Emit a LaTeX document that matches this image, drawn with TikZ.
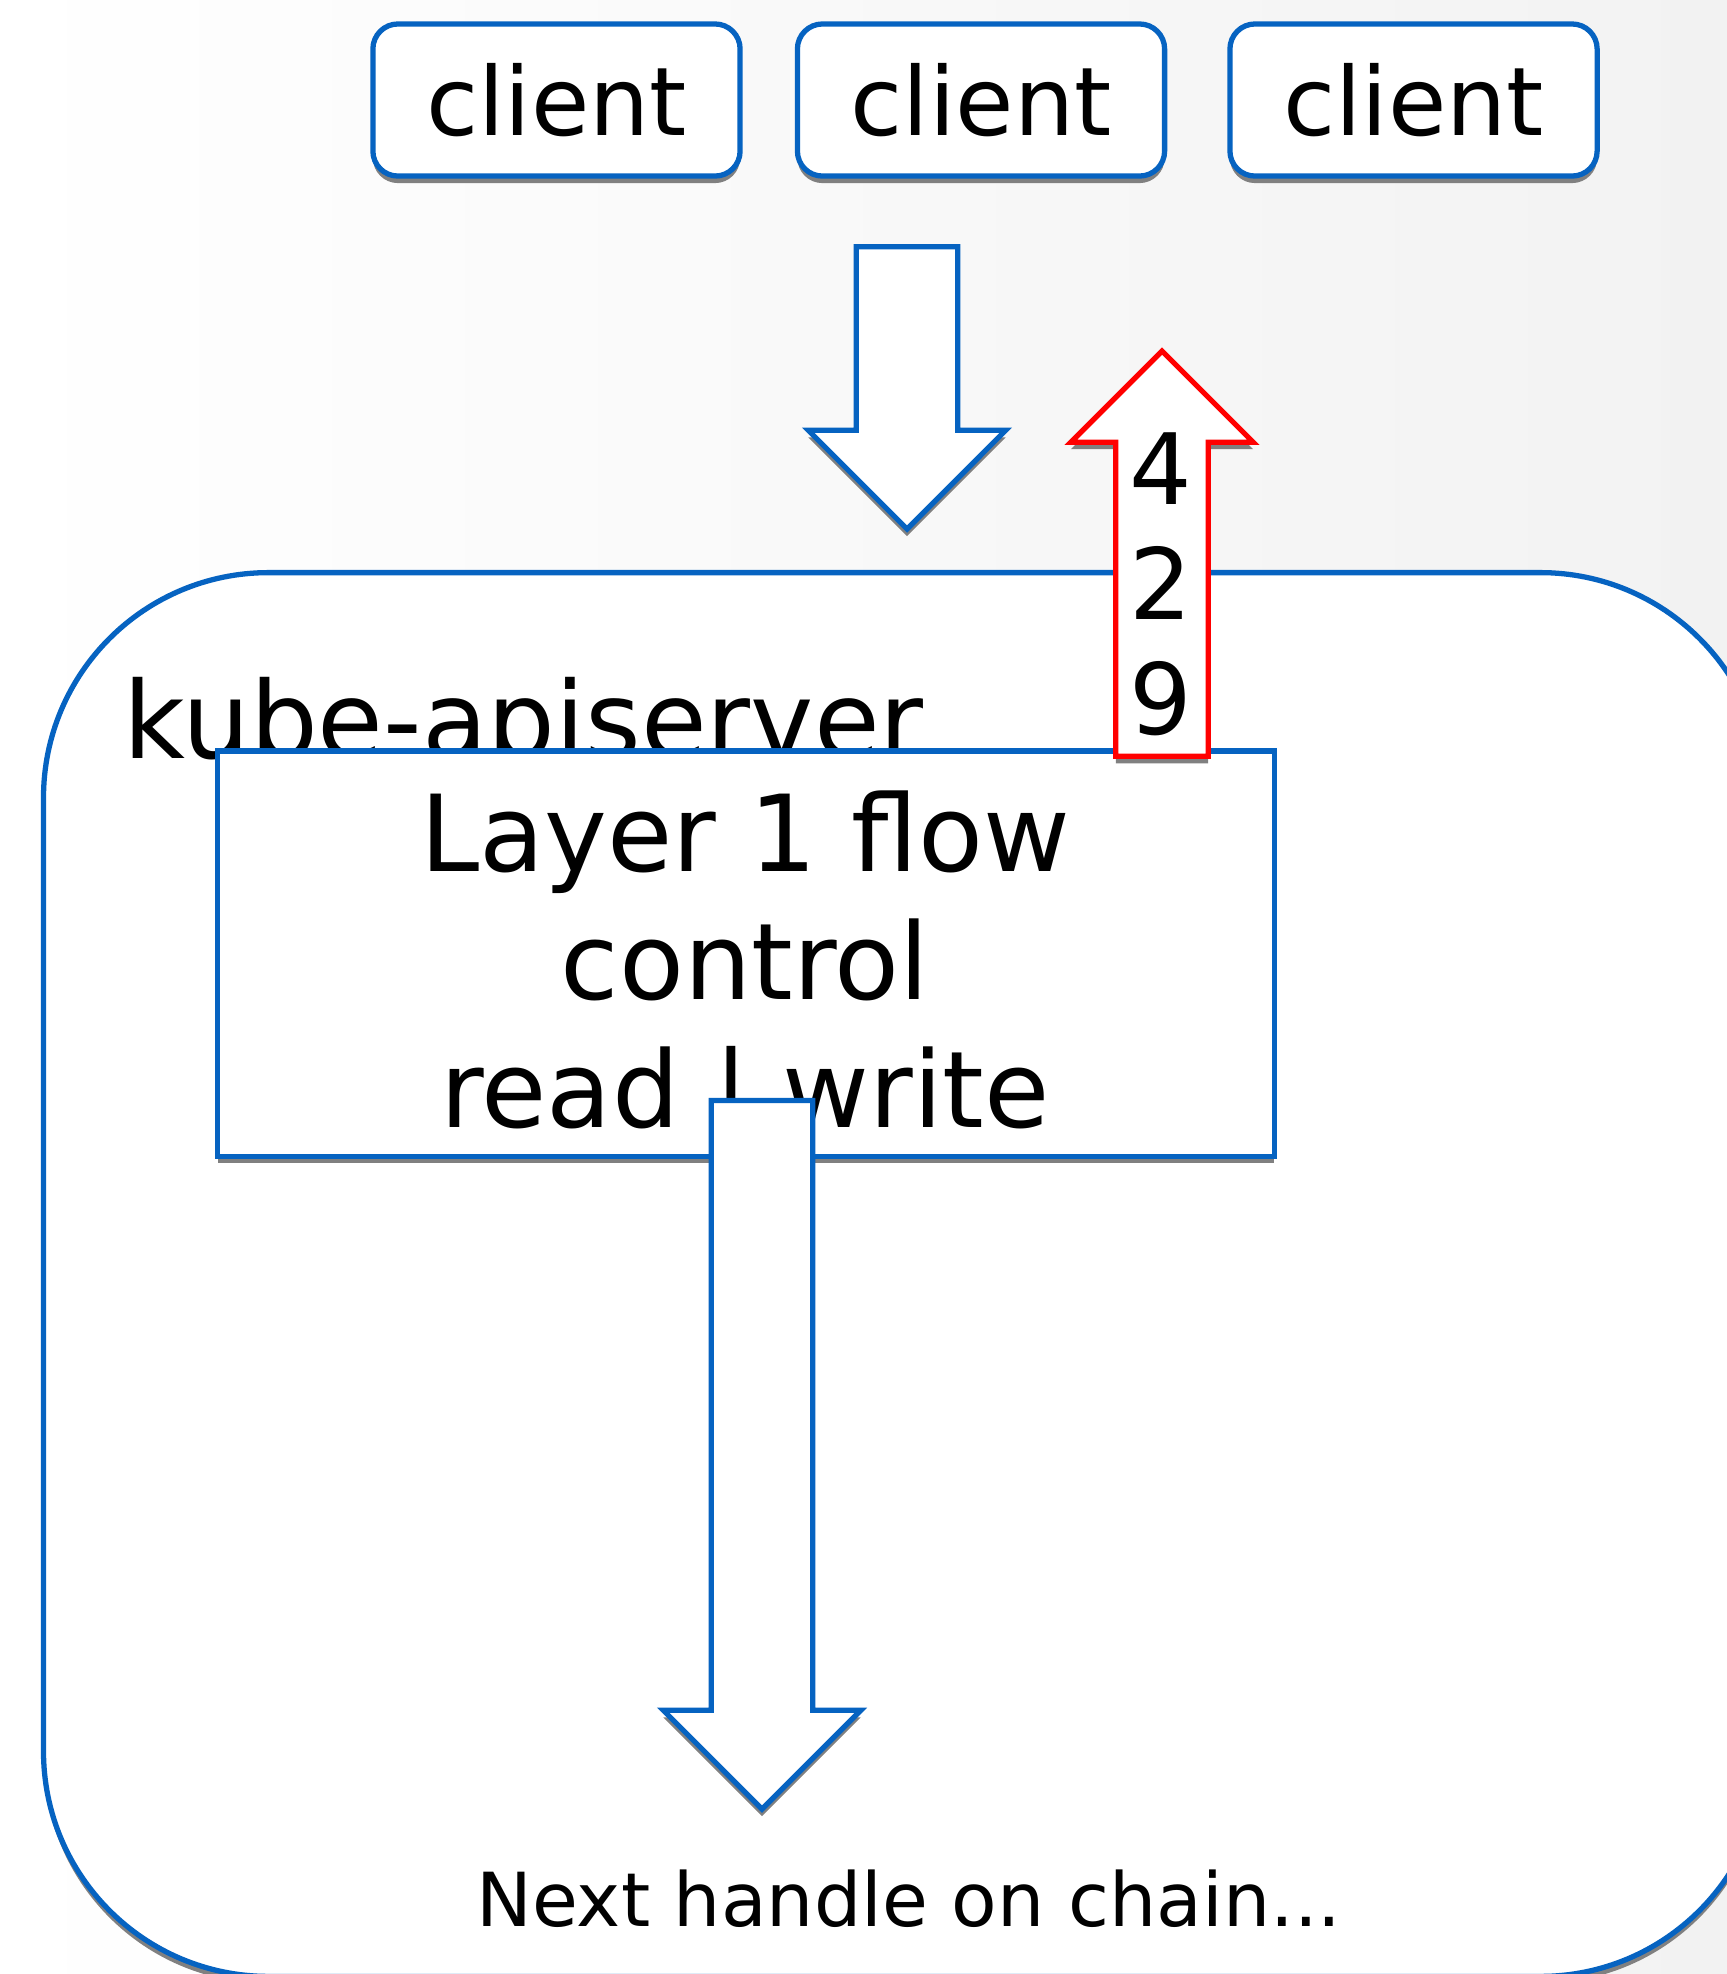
\documentclass[tikz,border=0pt]{standalone}
\usepackage{fontspec}
\setmainfont{DejaVu Sans}
\usepackage{color}
\definecolor{myblue}{RGB}{6,99,193}
\definecolor{myred}{RGB}{255,0,0}
\definecolor{mygray}{RGB}{242,242,242}
\usetikzlibrary{shapes.arrows,shadows,positioning}

\begin{document}
\begin{tikzpicture}[
  x=0.01cm, y=-0.01cm,
  line width=1.5pt,
  myshadow/.style={drop shadow={shadow xshift=0pt, shadow yshift=-2pt, fill=gray, opacity=1}},
  myclient/.style={
    draw=myblue,
    fill=white,
    myshadow,
    rectangle,
    rounded corners=0.25cm,
    minimum width=3.67cm,
    minimum height=1.52cm,
    inner sep=0pt,
    font=\fontsize{27}{32}\selectfont
    },
  mybox/.style={draw=myblue, fill=white, myshadow, rectangle, inner sep=0pt},
  myarrow/.style={
    draw=myblue,
    fill=white,
    myshadow,
    single arrow,
    single arrow tip angle=90,
    outer sep=0pt
    },
  mytext/.style={inner sep=0pt, align=center}
]
\useasboundingbox (0,0) rectangle (1727,1974);
\clip (0,0) rectangle (1727,1974);
\shade[left color=white, right color=mygray] (0,0) rectangle (1727,1974);

\node[mybox, rounded corners=2.25cm, minimum width=17.21cm, minimum height=14.03cm] (apiserver) at (904.5,1274.5) {};
\node[mytext, anchor=base west, font=\fontsize{30.4}{36}\selectfont] (apilbl) at (121,758) {kube-apiserver};

\node[mybox, minimum width=10.56cm, minimum height=4.05cm] (layer) at (746,953.5) {};
\node[mytext, anchor=north, font=\fontsize{30.2}{36.4}\selectfont] (layerlbl) at (745,788) {Layer 1 flow\\control\\read | write};

\node[myarrow, shape border rotate=270, inner sep=0.48cm, single arrow head extend=0.48cm,
  minimum height=7.08cm, anchor=tip] (nextarrow) at (762,1809) {};
\node[myarrow, draw=myred, shape border rotate=90, inner sep=0.435cm, single arrow head extend=0.45cm,
  minimum height=4.05cm, anchor=tip] (rate) at (1162,351) {};
\node[mytext, anchor=north, font=\fontsize{28}{32.7}\selectfont] (ratelbl) at (1161,430) {4\\2\\9};

\node[myarrow, shape border rotate=270, inner sep=0.48cm, single arrow head extend=0.48cm,
  minimum height=2.82cm, anchor=tip] (inarrow) at (907,529) {};

\node[myclient] (client1) at (556.5,100) {client};
\node[myclient, right=0.52cm of client1] (client2) {client};
\node[myclient, right=0.6cm of client2] (client3) {client};

\node[mytext, anchor=base, font=\fontsize{21.2}{25}\selectfont] (nextlbl) at (909,1926) {Next handle on chain...};

\end{tikzpicture}
\end{document}
